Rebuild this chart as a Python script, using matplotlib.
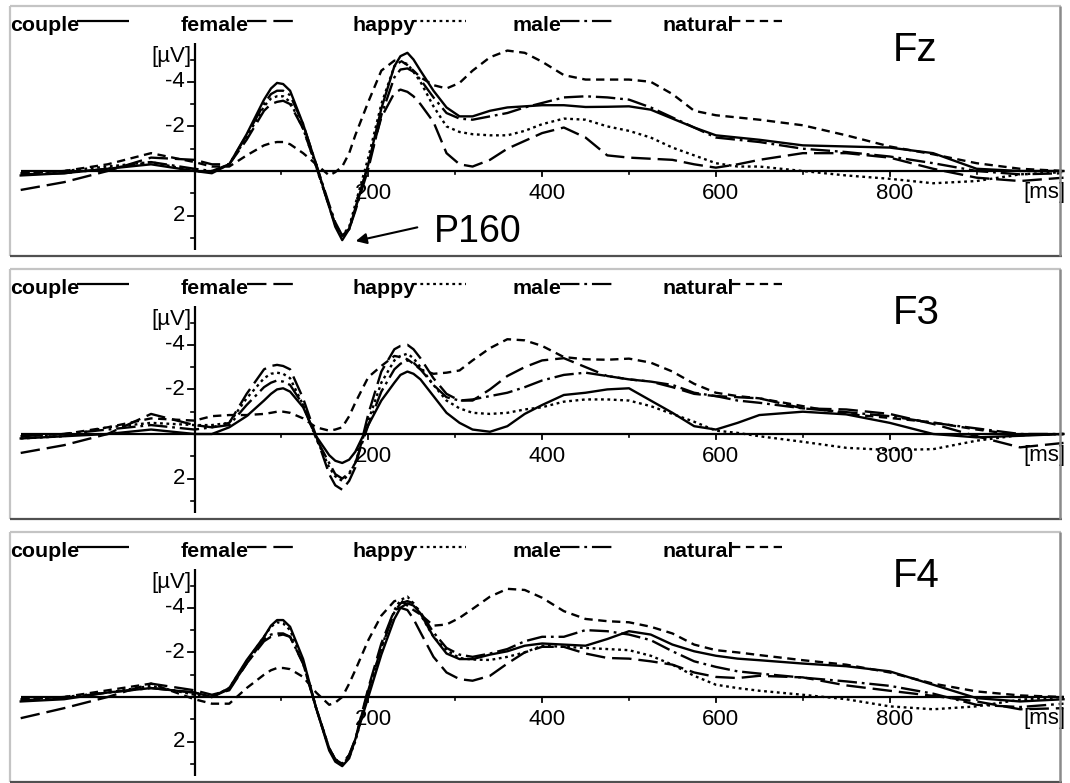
import matplotlib
matplotlib.use('Agg')
import matplotlib.pyplot as plt
from matplotlib.lines import Line2D

# --- Dati (letti a occhio dal grafico, uV con negativo in alto) ---

t_ms = [-200, -150, -100, -50, 0, 20, 40, 60, 80,
        88, 95, 102, 110, 125, 140, 155, 162, 170, 178, 185, 200, 215, 230, 237, 245, 252, 260, 275, 290,
        305, 320, 340, 360, 380, 400, 425, 450, 475, 500, 525, 550, 575, 600, 625, 650, 700, 750, 800,
        850, 900, 950, 1000]

condizioni = ['couple', 'female', 'happy', 'male', 'natural']

fz_couple = [0.2, 0.1, -0.1, -0.3, 0.0, 0.1, -0.3, -1.65, -3.2,
             -3.7, -3.95, -3.9, -3.6, -2.1, -0.3, 1.6, 2.5, 3.1, 2.6, 1.7, -0.3, -2.8, -4.7, -5.15, -5.3, -5.0, -4.5, -3.6, -2.85,
             -2.45, -2.45, -2.7, -2.85, -2.9, -2.95, -2.95, -2.87, -2.88, -2.9, -2.75, -2.35, -1.95, -1.6, -1.5, -1.4, -1.15, -1.1, -1.05,
             -0.8, -0.1, 0.0, 0.0]
fz_female = [0.85, 0.5, 0.0, -0.6, -0.5, -0.3, -0.3, -1.4, -2.7,
             -3.0, -3.1, -3.15, -3.0, -1.9, -0.2, 1.6, 2.4, 2.9, 2.6, 1.7, -0.3, -2.4, -3.5, -3.65, -3.55, -3.35, -3.0, -2.2, -0.8,
             -0.3, -0.2, -0.5, -1.0, -1.35, -1.7, -1.95, -1.5, -0.7, -0.6, -0.55, -0.5, -0.3, -0.15, -0.3, -0.5, -0.8, -0.8, -0.6,
             -0.1, 0.3, 0.45, 0.3]
fz_happy = [0.1, 0.0, -0.2, -0.4, 0.0, 0.05, -0.3, -1.5, -2.9,
            -3.25, -3.35, -3.35, -3.1, -1.9, -0.2, 1.6, 2.4, 2.9, 2.5, 1.5, -0.6, -3.0, -4.7, -4.9, -4.8, -4.45, -4.0, -2.9, -2.0,
            -1.75, -1.65, -1.6, -1.6, -1.8, -2.1, -2.35, -2.3, -2.0, -1.8, -1.5, -1.05, -0.7, -0.35, -0.2, -0.2, 0.0, 0.2, 0.35,
            0.55, 0.45, 0.15, 0.05]
fz_male = [0.15, 0.1, -0.1, -0.4, -0.1, 0.0, -0.3, -1.6, -3.0,
           -3.45, -3.6, -3.6, -3.4, -2.1, -0.3, 1.5, 2.3, 2.9, 2.6, 1.8, -0.1, -2.5, -4.2, -4.55, -4.6, -4.45, -4.1, -3.3, -2.6,
           -2.35, -2.3, -2.45, -2.6, -2.85, -3.05, -3.3, -3.35, -3.3, -3.2, -2.85, -2.4, -1.95, -1.5, -1.4, -1.3, -1.0, -0.85, -0.65,
           -0.35, 0.0, 0.15, 0.1]
fz_natural = [0.1, 0.0, -0.3, -0.8, -0.4, -0.2, -0.2, -0.7, -1.15,
              -1.25, -1.3, -1.3, -1.2, -0.8, -0.3, 0.2, 0.05, -0.2, -0.8, -1.6, -3.1, -4.5, -4.95, -4.95, -4.75, -4.5, -4.2, -3.85, -3.7,
              -3.95, -4.5, -5.1, -5.4, -5.3, -4.9, -4.3, -4.1, -4.1, -4.1, -4.0, -3.45, -2.7, -2.5, -2.4, -2.3, -2.05, -1.6, -1.1,
              -0.75, -0.35, -0.1, 0.0]

f3_couple = [0.2, 0.1, 0.0, -0.2, 0.0, 0.0, -0.3, -0.8, -1.5,
             -1.8, -2.0, -2.05, -1.9, -1.2, 0.1, 0.95, 1.2, 1.3, 1.15, 0.8, -0.4, -1.5, -2.3, -2.65, -2.8, -2.7, -2.45, -1.7, -0.95,
             -0.5, -0.2, -0.1, -0.35, -0.9, -1.3, -1.75, -1.85, -2.0, -2.05, -1.5, -0.95, -0.35, -0.2, -0.5, -0.85, -1.0, -0.88, -0.5,
             0.0, 0.15, 0.08, 0.0]
f3_female = [0.85, 0.5, 0.0, -0.9, -0.4, -0.3, -0.5, -1.8, -2.9,
             -3.05, -3.1, -3.05, -2.9, -1.6, 0.1, 1.8, 2.3, 2.5, 2.1, 1.5, -0.9, -2.8, -3.8, -3.95, -4.0, -3.8, -3.4, -2.5, -1.8,
             -1.5, -1.5, -2.0, -2.6, -3.0, -3.3, -3.4, -3.0, -2.6, -2.45, -2.35, -2.1, -1.8, -1.7, -1.65, -1.6, -1.15, -1.1, -0.9,
             -0.45, 0.1, 0.6, 0.4]
f3_happy = [0.2, 0.1, -0.3, -0.5, -0.4, -0.4, -0.5, -1.6, -2.5,
            -2.7, -2.75, -2.7, -2.5, -1.3, 0.2, 1.5, 1.9, 2.1, 1.8, 1.3, -0.6, -2.3, -3.3, -3.5, -3.6, -3.4, -3.0, -2.2, -1.5,
            -1.15, -0.95, -0.9, -0.95, -1.1, -1.2, -1.45, -1.55, -1.55, -1.5, -1.25, -0.9, -0.55, -0.15, -0.05, 0.1, 0.35, 0.62, 0.72,
            0.68, 0.3, 0.05, 0.0]
f3_male = [0.1, 0.0, -0.2, -0.4, -0.2, -0.3, -0.4, -1.3, -2.1,
           -2.3, -2.4, -2.35, -2.2, -1.3, 0.2, 1.3, 1.8, 2.0, 1.75, 1.3, -0.4, -1.9, -2.9, -3.15, -3.3, -3.2, -2.9, -2.2, -1.65,
           -1.5, -1.55, -1.7, -1.85, -2.1, -2.4, -2.65, -2.75, -2.6, -2.45, -2.35, -2.2, -1.85, -1.7, -1.5, -1.4, -1.15, -0.98, -0.8,
           -0.5, -0.25, 0.0, 0.0]
f3_natural = [0.1, 0.0, -0.3, -0.7, -0.6, -0.8, -0.85, -0.85, -0.9,
              -0.95, -1.0, -1.0, -0.95, -0.7, -0.3, -0.15, -0.2, -0.3, -0.8, -1.4, -2.55, -3.05, -3.5, -3.45, -3.35, -3.15, -2.9, -2.7, -2.75,
              -2.85, -3.3, -3.85, -4.25, -4.2, -3.95, -3.45, -3.35, -3.33, -3.38, -3.2, -2.8, -2.25, -1.85, -1.7, -1.6, -1.25, -0.9, -0.72,
              -0.52, -0.2, 0.05, 0.0]

f4_couple = [0.2, 0.1, -0.2, -0.4, -0.2, 0.0, -0.4, -1.65, -2.7,
             -3.2, -3.45, -3.45, -3.15, -1.7, 0.5, 2.4, 2.9, 3.1, 2.75, 1.9, 0.0, -1.9, -3.5, -4.0, -4.2, -4.1, -3.75, -2.7, -1.95,
             -1.7, -1.7, -1.9, -2.05, -2.3, -2.4, -2.35, -2.3, -2.6, -2.95, -2.8, -2.35, -2.05, -1.85, -1.72, -1.65, -1.5, -1.38, -1.15,
             -0.55, 0.05, 0.2, 0.1]
f4_female = [0.95, 0.5, 0.0, -0.6, -0.3, -0.1, -0.3, -1.5, -2.5,
             -2.7, -2.75, -2.8, -2.7, -1.5, 0.5, 2.3, 2.8, 3.0, 2.6, 1.9, -0.4, -2.4, -3.9, -4.0, -3.9, -3.5, -2.9, -1.8, -1.1,
             -0.8, -0.73, -0.95, -1.5, -2.0, -2.25, -2.25, -1.95, -1.75, -1.72, -1.6, -1.45, -1.1, -0.9, -0.85, -0.95, -0.88, -0.52, -0.28,
             -0.05, 0.2, 0.55, 0.5]
f4_happy = [0.1, 0.0, -0.2, -0.5, -0.1, 0.0, -0.4, -1.6, -2.7,
            -3.15, -3.35, -3.3, -3.0, -1.6, 0.5, 2.3, 2.8, 3.0, 2.7, 2.0, -0.2, -2.2, -3.9, -4.35, -4.5, -4.2, -3.7, -2.7, -2.1,
            -1.75, -1.68, -1.66, -1.8, -2.0, -2.3, -2.25, -2.2, -2.15, -2.1, -1.85, -1.45, -0.95, -0.55, -0.4, -0.28, -0.1, 0.1, 0.42,
            0.55, 0.42, 0.12, 0.0]
f4_male = [0.15, 0.05, -0.2, -0.4, -0.2, 0.0, -0.35, -1.5, -2.6,
           -2.8, -2.85, -2.85, -2.7, -1.5, 0.5, 2.3, 2.8, 3.0, 2.6, 1.9, -0.3, -2.2, -3.8, -4.2, -4.3, -4.2, -3.8, -2.9, -2.2,
           -1.9, -1.8, -1.95, -2.15, -2.5, -2.7, -2.7, -3.0, -2.95, -2.8, -2.55, -2.05, -1.6, -1.35, -1.15, -1.05, -0.87, -0.7, -0.5,
           -0.15, 0.35, 0.45, 0.3]
f4_natural = [0.1, 0.0, -0.3, -0.6, 0.1, 0.3, 0.3, -0.4, -1.0,
              -1.2, -1.3, -1.3, -1.25, -0.9, -0.2, 0.35, 0.25, 0.0, -0.6, -1.2, -2.55, -3.65, -4.3, -4.35, -4.1, -3.9, -3.7, -3.2, -3.25,
              -3.55, -3.95, -4.5, -4.85, -4.8, -4.45, -3.85, -3.5, -3.4, -3.35, -3.15, -2.85, -2.35, -2.1, -2.0, -1.88, -1.65, -1.45, -1.1,
              -0.6, -0.25, -0.07, 0.0]

pannelli = [
    ('Fz', [fz_couple, fz_female, fz_happy, fz_male, fz_natural]),
    ('F3', [f3_couple, f3_female, f3_happy, f3_male, f3_natural]),
    ('F4', [f4_couple, f4_female, f4_happy, f4_male, f4_natural]),
]

# --- Impostazioni grafiche ---

plt.rcParams['font.family'] = ['Liberation Sans', 'DejaVu Sans']
plt.rcParams['lines.scale_dashes'] = False

W, H = 1070, 783
X0 = 194.5        # pixel dello 0 ms
PX_MS = 0.869     # pixel per ms
PX_UV = 22.3      # pixel per uV
ZERO_OFF = 165    # distanza dello zero dal bordo alto del pannello
PANEL_H = 250
PASSO = 263

stili = {
    'couple': '-',
    'female': (0, (14, 5)),
    'happy': (0, (2, 2.6)),
    'male': (0, (14, 3.5, 2, 3.5)),
    'natural': (0, (6, 4)),
}
legenda_x = [10, 181, 353, 513, 663]

def mx(px):
    return (px - X0) / PX_MS

def my(off):
    return (off - ZERO_OFF) / PX_UV

fig = plt.figure(figsize=(W / 100, H / 100), dpi=100)

legende = []
for i, (nome, serie) in enumerate(pannelli):
    top = 6 + PASSO * i
    ax = fig.add_axes([0, 1 - (top + PANEL_H) / H, 1, PANEL_H / H])
    ax.set_xlim(mx(0), mx(W))
    ax.set_ylim(my(PANEL_H), my(0))
    ax.axis('off')

    # assi
    ax.plot([-200, 1000], [0, 0], color='black', lw=1.6, solid_capstyle='butt')
    ax.plot([0, 0], [-5.75, 3.55], color='black', lw=1.6, solid_capstyle='butt')
    for v in [-4, -2, 2]:
        ax.plot([-7 / PX_MS, 0], [v, v], color='black', lw=1.3)
        ax.text(-9.5 / PX_MS, v, f'{v}', fontsize=16, ha='right', va='center')
    for v in [-5, -3, -1, 1, 3]:
        ax.plot([-4 / PX_MS, 0], [v, v], color='black', lw=1.2)
    for m in [200, 400, 600, 800]:
        ax.plot([m, m], [0, 4.5 / PX_UV], color='black', lw=1.3)
        ax.text(m + 5 / PX_MS, 1.25, f'{m}', fontsize=16, ha='center', va='baseline')
    for m in [100, 300, 500, 700, 900]:
        ax.plot([m, m], [0, 2.5 / PX_UV], color='black', lw=1.2)
    ax.text(mx(1023), 1.2, '[ms]', fontsize=16, ha='left', va='baseline')
    ax.text(-3 / PX_MS, -4.9, '[µV]', fontsize=16, ha='right', va='baseline')

    # curve
    for cond, valori in zip(condizioni, serie):
        ax.plot(t_ms, valori, color='black', lw=1.7, linestyle=stili[cond],
                solid_joinstyle='round', dash_joinstyle='round')

    ax.text(mx(893), my(55), nome, fontsize=29, ha='left', va='baseline')

    testi = []
    for cond, px in zip(condizioni, legenda_x):
        tt = ax.text(mx(px), my(25), cond, fontsize=15.4, fontweight='bold',
                     ha='left', va='baseline')
        testi.append(tt)
    legende.append((ax, testi))

    if i == 0:
        ax.annotate('', xy=(182.4, 3.17), xytext=(259.5, 2.5),
                    arrowprops=dict(arrowstyle='-|>', color='black', lw=1.5,
                                    mutation_scale=16))
        ax.text(275, 3.18, 'P160', fontsize=27, ha='left', va='baseline')

    # bordi del pannello
    b = top + PANEL_H
    def linea(x0, y0, x1, y1, col, lw):
        fig.add_artist(Line2D([x0 / W, x1 / W], [1 - y0 / H, 1 - y1 / H],
                              color=col, lw=lw, solid_capstyle='butt'))
    linea(10, top, 1061, top, '#c4c4c4', 1.6)
    linea(10, top, 10, b, '#c4c4c4', 1.6)
    linea(10, b, 1062, b, '#505050', 1.6)
    linea(1060, top, 1060, b, '#8a8a8a', 1.8)

# linee della legenda, dopo il testo
fig.canvas.draw()
for ax, testi in legende:
    for cond, tt in zip(condizioni, testi):
        ext = tt.get_window_extent()
        ax.plot([mx(ext.x1 - 2), mx(ext.x1 + 50)], [my(14.5), my(14.5)],
                color='black', lw=1.6, linestyle=stili[cond], solid_capstyle='butt')

fig.savefig('out.png', dpi=100)
